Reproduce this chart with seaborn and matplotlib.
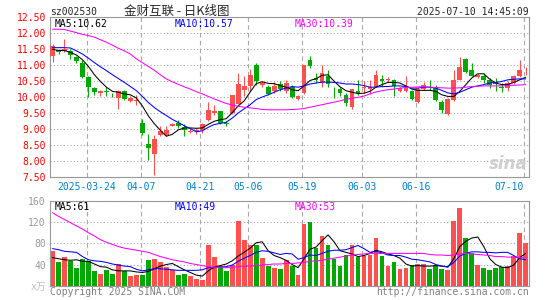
import matplotlib
matplotlib.use('Agg')
import matplotlib.pyplot as plt
import pandas as pd
import seaborn as sns

# daily candles, 2025-03-14 .. 2025-07-10 (80 trading days)
opens = [11.30, 11.48, 11.45, 11.46, 11.27, 11.08, 10.62, 10.28, 10.12, 10.18,
         10.08, 9.97, 10.20, 9.87, 9.88, 9.19, 8.54, 8.20, 8.80, 8.82,
         9.10, 9.17, 9.06, 8.90, 8.92, 8.98, 9.29, 9.50, 9.55, 9.17,
         9.50, 9.79, 10.23, 10.35, 11.02, 10.38, 10.33, 10.20, 10.41, 10.18,
         10.31, 9.94, 10.13, 11.17, 10.60, 10.44, 10.65, 10.32, 10.25, 10.07,
         9.69, 10.20, 10.28, 10.25, 10.33, 10.57, 10.55, 10.55, 10.19, 10.20,
         10.20, 9.83, 10.25, 10.36, 10.31, 9.86, 9.48, 9.92, 10.54, 11.20,
         10.85, 10.64, 10.67, 10.53, 10.48, 10.32, 10.27, 10.43, 10.67, 10.84]
highs = [11.66, 11.52, 11.82, 11.50, 11.30, 11.15, 10.65, 10.30, 10.22, 10.33,
         10.14, 10.23, 10.23, 10.02, 10.05, 9.30, 8.85, 8.80, 9.08, 9.08,
         9.20, 9.27, 9.14, 9.03, 9.04, 9.20, 9.83, 9.76, 9.56, 9.24,
         10.08, 10.77, 10.65, 10.88, 11.06, 10.50, 10.39, 10.48, 10.50, 10.54,
         10.38, 10.08, 11.01, 11.28, 10.77, 11.00, 10.86, 10.33, 10.33, 10.13,
         10.26, 10.55, 10.50, 10.55, 10.86, 10.70, 10.62, 10.56, 10.33, 10.65,
         10.22, 10.28, 10.48, 10.52, 10.38, 9.92, 9.97, 10.86, 11.27, 11.24,
         11.06, 10.72, 10.75, 10.60, 10.59, 10.44, 10.49, 10.70, 11.16, 10.95]
lows = [11.10, 11.36, 11.42, 11.18, 11.08, 10.60, 10.00, 10.08, 10.04, 10.02,
        10.00, 9.62, 9.92, 9.84, 9.74, 8.82, 8.02, 7.55, 8.77, 8.78,
        9.08, 9.03, 8.78, 8.86, 8.85, 8.86, 9.24, 9.45, 9.14, 9.08,
        9.47, 9.78, 10.02, 10.18, 10.38, 10.30, 10.07, 10.12, 10.20, 10.12,
        9.97, 9.90, 10.10, 10.90, 10.44, 10.33, 10.30, 9.97, 10.02, 9.73,
        9.64, 10.07, 10.12, 10.10, 10.30, 10.33, 10.46, 10.04, 10.15, 10.15,
        9.90, 9.80, 10.22, 10.22, 9.87, 9.50, 9.45, 9.87, 10.52, 10.75,
        10.65, 10.60, 10.43, 10.27, 10.20, 10.15, 10.20, 10.41, 10.64, 10.69]
closes = [11.60, 11.40, 11.51, 11.32, 11.12, 10.62, 10.33, 10.15, 10.20, 10.16,
          10.06, 10.18, 9.95, 9.96, 9.90, 8.86, 8.40, 8.67, 8.95, 8.98,
          9.16, 9.10, 8.98, 8.95, 8.96, 9.16, 9.60, 9.57, 9.19, 9.15,
          10.07, 10.41, 10.35, 10.70, 10.49, 10.44, 10.10, 10.35, 10.25, 10.44,
          10.00, 10.02, 11.00, 10.96, 10.55, 10.77, 10.40, 10.31, 10.13, 9.80,
          10.25, 10.13, 10.32, 10.33, 10.70, 10.50, 10.57, 10.34, 10.28, 10.33,
          9.95, 10.25, 10.37, 10.34, 9.92, 9.60, 9.94, 10.54, 10.94, 10.80,
          10.67, 10.69, 10.53, 10.38, 10.40, 10.27, 10.43, 10.67, 10.85, 10.86]
ma5 = [11.50, 11.46, 11.46, 11.40, 11.32, 11.17, 10.96, 10.70, 10.49, 10.31,
       10.18, 10.15, 10.10, 10.07, 9.97, 9.72, 9.41, 9.16, 8.96, 8.77,
       8.83, 8.97, 9.03, 9.03, 9.02, 9.03, 9.14, 9.24, 9.29, 9.32,
       9.51, 9.72, 9.88, 10.16, 10.42, 10.48, 10.43, 10.42, 10.36, 10.31,
       10.23, 10.20, 10.35, 10.52, 10.58, 10.68, 10.70, 10.50, 10.32, 10.20,
       10.15, 10.11, 10.12, 10.18, 10.31, 10.39, 10.46, 10.46, 10.44, 10.35,
       10.25, 10.21, 10.21, 10.21, 10.18, 10.07, 10.02, 10.02, 10.18, 10.39,
       10.60, 10.73, 10.73, 10.56, 10.44, 10.39, 10.39, 10.46, 10.54, 10.62]
ma10 = [11.55, 11.55, 11.55, 11.54, 11.45, 11.35, 11.22, 11.08, 10.95, 10.83,
        10.70, 10.58, 10.46, 10.33, 10.20, 10.02, 9.83, 9.67, 9.54, 9.42,
        9.30, 9.20, 9.10, 9.01, 8.91, 8.94, 9.05, 9.14, 9.17, 9.21,
        9.34, 9.50, 9.63, 9.76, 9.92, 10.00, 10.07, 10.15, 10.23, 10.28,
        10.33, 10.31, 10.35, 10.41, 10.44, 10.47, 10.47, 10.46, 10.44, 10.41,
        10.41, 10.39, 10.36, 10.31, 10.31, 10.33, 10.33, 10.35, 10.35, 10.33,
        10.28, 10.28, 10.31, 10.31, 10.28, 10.21, 10.13, 10.10, 10.15, 10.23,
        10.31, 10.35, 10.39, 10.44, 10.46, 10.49, 10.54, 10.56, 10.57, 10.57]
ma30 = [12.13, 12.13, 12.12, 12.07, 12.02, 11.97, 11.93, 11.88, 11.80, 11.72,
        11.63, 11.53, 11.45, 11.35, 11.20, 11.08, 10.96, 10.84, 10.70, 10.57,
        10.48, 10.40, 10.32, 10.25, 10.17, 10.10, 10.02, 9.94, 9.87, 9.80,
        9.75, 9.71, 9.68, 9.66, 9.64, 9.61, 9.60, 9.60, 9.60, 9.60,
        9.61, 9.62, 9.64, 9.68, 9.72, 9.76, 9.80, 9.84, 9.88, 9.93,
        9.96, 9.99, 10.03, 10.10, 10.16, 10.20, 10.23, 10.25, 10.28, 10.30,
        10.31, 10.32, 10.32, 10.31, 10.30, 10.29, 10.28, 10.28, 10.29, 10.31,
        10.33, 10.34, 10.35, 10.35, 10.35, 10.35, 10.36, 10.37, 10.38, 10.39]

# volume, x10k shares
volumes = [65, 44, 55, 46, 34, 50, 47, 27, 22, 30,
           22, 41, 27, 18, 20, 20, 49, 51, 44, 36,
           29, 20, 22, 18, 13, 10, 77, 55, 37, 27,
           39, 123, 87, 77, 77, 53, 37, 34, 32, 48,
           37, 20, 117, 121, 72, 93, 76, 51, 37, 58,
           76, 55, 57, 58, 91, 57, 37, 44, 32, 34,
           39, 41, 41, 32, 39, 32, 30, 123, 146, 91,
           62, 39, 34, 30, 34, 36, 37, 57, 100, 80]
vol_ma5 = [53, 51, 49, 48, 49, 46, 46, 41, 36, 35,
           30, 28, 28, 28, 26, 25, 27, 32, 37, 40,
           42, 36, 30, 25, 20, 18, 28, 35, 38, 41,
           47, 56, 63, 71, 81, 83, 66, 57, 53, 48,
           40, 34, 51, 69, 73, 85, 96, 83, 66, 63,
           60, 55, 57, 61, 67, 64, 60, 57, 52, 41,
           37, 38, 37, 37, 38, 37, 35, 51, 74, 84,
           90, 92, 74, 51, 40, 35, 34, 39, 53, 61]
vol_ma10 = [70, 68, 65, 64, 63, 55, 49, 47, 46, 44,
            41, 39, 37, 36, 31, 28, 30, 32, 32, 31,
            30, 29, 29, 29, 29, 30, 34, 34, 35, 36,
            39, 46, 52, 57, 63, 66, 65, 62, 59, 61,
            60, 50, 53, 58, 57, 61, 65, 67, 67, 68,
            72, 76, 70, 63, 65, 62, 58, 57, 57, 54,
            50, 49, 47, 45, 40, 37, 36, 44, 56, 61,
            64, 64, 63, 63, 62, 63, 63, 57, 51, 49]
vol_ma30 = [138, 131, 125, 119, 113, 107, 100, 94, 87, 82,
            78, 74, 71, 69, 67, 65, 63, 59, 55, 52,
            49, 47, 45, 42, 40, 38, 36, 35, 34, 34,
            35, 36, 37, 37, 38, 39, 40, 41, 41, 42,
            42, 43, 44, 46, 47, 48, 50, 52, 54, 56,
            58, 59, 60, 61, 61, 61, 61, 61, 61, 61,
            61, 61, 61, 59, 58, 58, 57, 58, 60, 61,
            60, 59, 58, 57, 55, 55, 54, 54, 53, 53]

date_pos = [6, 15, 25, 33, 42, 52, 61, 79]
date_labels = ['2025-03-24', '04-07', '04-21', '05-06', '05-19', '06-03', '06-16', '07-10']
price_ticks = [7.5, 8.0, 8.5, 9.0, 9.5, 10.0, 10.5, 11.0, 11.5, 12.0, 12.5]
vol_ticks = [0, 40, 80, 120, 160]
vol_tick_labels = ['x万', '40', '80', '120', '160']

RED = '#ff5050'
GREEN = '#00a800'
GRID = '#a8a8a8'

df = pd.DataFrame({'open': opens, 'high': highs, 'low': lows, 'close': closes,
                   'ma5': ma5, 'ma10': ma10, 'ma30': ma30, 'volume': volumes,
                   'vma5': vol_ma5, 'vma10': vol_ma10, 'vma30': vol_ma30})
df['idx'] = range(len(df))
df['dir'] = ['up' if c >= o else 'down' for o, c in zip(df.open, df.close)]
colors = [RED if d == 'up' else GREEN for d in df['dir']]

sns.set_style('white')
plt.rcParams['font.family'] = ['DejaVu Sans Mono', 'Noto Sans CJK SC']

W, H = 545, 300
fig = plt.figure(figsize=(W / 100, H / 100), dpi=100)


def box(l, t, r, b):
    return [l / W, 1 - b / H, (r - l) / W, (b - t) / H]


def px(x, y):
    return x / W, 1 - y / H


ax = fig.add_axes(box(50, 17.4, 529, 176.7))
axv = fig.add_axes(box(50, 201, 529, 285.7))

LW = 0.75

# candles
body_lo = df[['open', 'close']].min(axis=1)
body_h = (df.close - df.open).abs().clip(lower=0.02)
ax.vlines(df.idx, df.low, df.high, colors=colors, lw=0.8, zorder=2)
ax.bar(df.idx, body_h, bottom=body_lo, width=0.8, color=colors, linewidth=0, zorder=3)
sns.lineplot(data=df, x='idx', y='ma5', ax=ax, color='black', lw=LW, zorder=4)
sns.lineplot(data=df, x='idx', y='ma10', ax=ax, color='#0000ff', lw=LW, zorder=4)
sns.lineplot(data=df, x='idx', y='ma30', ax=ax, color='#ff00ff', lw=LW, zorder=4)

# volume
sns.barplot(data=df, x='idx', y='volume', hue='dir', palette={'up': RED, 'down': GREEN},
            native_scale=True, width=0.8, saturation=1, dodge=False, legend=False,
            errorbar=None, linewidth=0, ax=axv, zorder=2)
sns.lineplot(data=df, x='idx', y='vma5', ax=axv, color='black', lw=LW, zorder=4)
sns.lineplot(data=df, x='idx', y='vma10', ax=axv, color='#0000ff', lw=LW, zorder=4)
sns.lineplot(data=df, x='idx', y='vma30', ax=axv, color='#ff00ff', lw=LW, zorder=4)

grid_x = [p - 0.3 for p in date_pos]
for a in (ax, axv):
    a.set_xlim(-0.42, 79.55)
    a.set_xlabel('')
    a.set_ylabel('')
    a.set_xticks(grid_x)
    a.xaxis.grid(True, ls=(0, (4, 3)), color=GRID, lw=0.8)
    a.yaxis.grid(True, ls=(0, (1, 2)), color=GRID, lw=0.8)
    a.set_axisbelow(True)
    for s in a.spines.values():
        s.set_color('#999999')
        s.set_linewidth(0.8)

ax.set_ylim(7.5, 12.5)
ax.set_yticks(price_ticks)
ax.set_yticklabels(['%.2f' % v for v in price_ticks])
ax.set_xticklabels(date_labels)
ax.tick_params(axis='y', length=0, pad=3, labelsize=7, labelcolor='#ff0000')
ax.tick_params(axis='x', length=0, pad=3.5, labelsize=7, labelcolor='#0080cc')
ax.get_xticklabels()[-1].set_horizontalalignment('right')

axv.set_ylim(0, 160)
axv.set_yticks(vol_ticks)
axv.set_yticklabels(vol_tick_labels)
axv.set_xticklabels([])
axv.tick_params(axis='y', length=0, pad=3, labelsize=7, labelcolor='#999999')
axv.tick_params(axis='x', length=0)
axv.get_yticklabels()[0].set_color('#c0c0c0')

# header and legends
fs = 7
fig.text(*px(50, 15), 'sz002530', fontsize=fs, ha='left', va='baseline')
fig.text(*px(177, 14.5), '金财互联 - 日K线图', fontsize=9, ha='center', va='baseline',
         family=['Noto Sans CJK SC', 'DejaVu Sans'])
fig.text(*px(529, 15), '2025-07-10 14:45:09', fontsize=fs, ha='right', va='baseline')
fig.text(*px(55, 27.3), 'MA5:10.62', fontsize=fs, color='black', va='baseline')
fig.text(*px(175, 27.3), 'MA10:10.57', fontsize=fs, color='#0000ff', va='baseline')
fig.text(*px(295, 27.3), 'MA30:10.39', fontsize=fs, color='#ff00ff', va='baseline')
fig.text(*px(55, 210), 'MA5:61', fontsize=fs, color='black', va='baseline')
fig.text(*px(175, 210), 'MA10:49', fontsize=fs, color='#0000ff', va='baseline')
fig.text(*px(295, 210), 'MA30:53', fontsize=fs, color='#ff00ff', va='baseline')
fig.text(*px(50, 295.3), 'Copyright 2025 SINA.COM', fontsize=fs, color='#808080', va='baseline')
fig.text(*px(529, 295.3), 'http://finance.sina.com.cn', fontsize=fs, color='#808080',
         ha='right', va='baseline')
fig.text(*px(528, 169), 'sina', fontsize=12, color='#cfcfcf', fontweight='bold',
         fontstyle='italic', ha='right', va='baseline', family='DejaVu Sans')

fig.savefig('out.png', dpi=100)
